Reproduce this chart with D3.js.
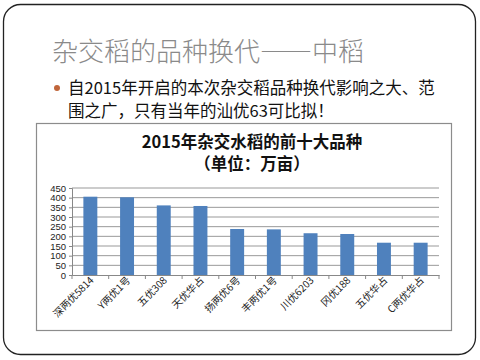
<!DOCTYPE html>
<html lang="zh">
<head>
  <meta charset="utf-8">
  <title>杂交稻</title>
  <style>
    body { margin: 0; background: #fff; }
  </style>
</head>
<body>
  <script src="https://d3js.org/d3.v7.min.js"></script>
  <script>
    var categories = ["深两优5814", "Y两优1号", "五优308", "天优华占", "扬两优6号",
                      "丰两优1号", "川优6203", "冈优188", "五优华占", "C两优华占"];
    var values = [405, 402, 360, 357, 238, 236, 216, 212, 167, 167];
    var yTicks = [0, 50, 100, 150, 200, 250, 300, 350, 400, 450];

    var w = 480, h = 360;
    var svg = d3.select("body").append("svg").attr("width", w).attr("height", h);

    // slide frame
    svg.append("rect")
      .attr("x", 3.5).attr("y", 4.5).attr("width", 472).attr("height", 350)
      .attr("rx", 17).attr("ry", 17)
      .attr("fill", "#fff").attr("stroke", "#222").attr("stroke-width", 1.3);

    var title = svg.append("text")
      .attr("x", 52).attr("y", 61)
      .attr("font-family", "Noto Sans CJK SC").attr("font-size", 26)
      .attr("font-weight", 300)
      .attr("fill", "#8a8a8a");
    title.append("tspan").text("杂交稻的品种换代");
    title.append("tspan").attr("letter-spacing", -2).text("——");
    title.append("tspan").attr("dx", 2).text("中稻");

    svg.append("circle").attr("cx", 57).attr("cy", 88).attr("r", 3).attr("fill", "#c0653a");

    var bullet = svg.append("text")
      .attr("font-family", "Noto Sans CJK SC").attr("font-size", 16.5)
      .attr("fill", "#111");
    bullet.append("tspan").attr("x", 68).attr("y", 94)
      .text("自2015年开启的本次杂交稻品种换代影响之大、范");
    bullet.append("tspan").attr("x", 68).attr("y", 117)
      .text("围之广，只有当年的汕优63可比拟！");

    // chart box
    svg.append("rect")
      .attr("x", 36.5).attr("y", 123.5).attr("width", 415).attr("height", 207)
      .attr("fill", "#fff").attr("stroke", "#8c8c8c").attr("stroke-width", 1.2);

    svg.append("text")
      .attr("x", 252).attr("y", 148).attr("text-anchor", "middle")
      .attr("font-family", "Noto Sans CJK SC").attr("font-weight", "bold")
      .attr("font-size", 16.5).attr("fill", "#111")
      .text("2015年杂交水稻的前十大品种");
    svg.append("text")
      .attr("x", 252).attr("y", 170).attr("text-anchor", "middle")
      .attr("font-family", "Noto Sans CJK SC").attr("font-weight", "bold")
      .attr("font-size", 16.5).attr("fill", "#111")
      .text("（单位：万亩）");

    var plotL = 72, plotR = 439, plotT = 188, plotB = 275;

    var x = d3.scaleBand().domain(categories).range([plotL, plotR]).paddingInner(0.62).paddingOuter(0.31);
    var y = d3.scaleLinear().domain([0, 450]).range([plotB, plotT]);

    // gridlines
    svg.append("g").selectAll("line").data(yTicks.slice(1)).enter().append("line")
      .attr("x1", plotL).attr("x2", plotR)
      .attr("y1", function(d){ return y(d); }).attr("y2", function(d){ return y(d); })
      .attr("stroke", "#999").attr("stroke-width", 1);

    svg.append("g").selectAll("rect").data(values).enter().append("rect")
      .attr("x", function(d, i){ return x(categories[i]); })
      .attr("y", function(d){ return y(d); })
      .attr("width", x.bandwidth())
      .attr("height", function(d){ return plotB - y(d); })
      .attr("fill", "#4f81bd");

    var yAxis = svg.append("g").attr("transform", "translate(" + plotL + ",0)")
      .call(d3.axisLeft(y).tickValues(yTicks).tickSize(3).tickPadding(3));
    yAxis.selectAll("text").attr("font-family", "Liberation Sans").attr("font-size", 9.5).attr("fill", "#222");
    yAxis.selectAll("line, path").attr("stroke", "#888");

    var step = (plotR - plotL) / categories.length;
    var xAxis = svg.append("g").attr("transform", "translate(0," + plotB + ")")
      .call(d3.axisBottom(x).tickSize(0).tickPadding(0));
    xAxis.select("path").attr("stroke", "#888");
    xAxis.selectAll(".tick line").remove();
    // tick marks between categories
    xAxis.selectAll("line.sep").data(d3.range(categories.length + 1)).enter().append("line")
      .attr("class", "sep")
      .attr("x1", function(d){ return plotL + d * step; }).attr("x2", function(d){ return plotL + d * step; })
      .attr("y1", 0).attr("y2", 4).attr("stroke", "#888");
    xAxis.selectAll(".tick text")
      .attr("font-family", "Noto Sans CJK SC").attr("font-size", 10).attr("fill", "#222")
      .attr("text-anchor", "end")
      .attr("dy", 0)
      .attr("transform", "translate(4,6) rotate(-45)");
  </script>
</body>
</html>
